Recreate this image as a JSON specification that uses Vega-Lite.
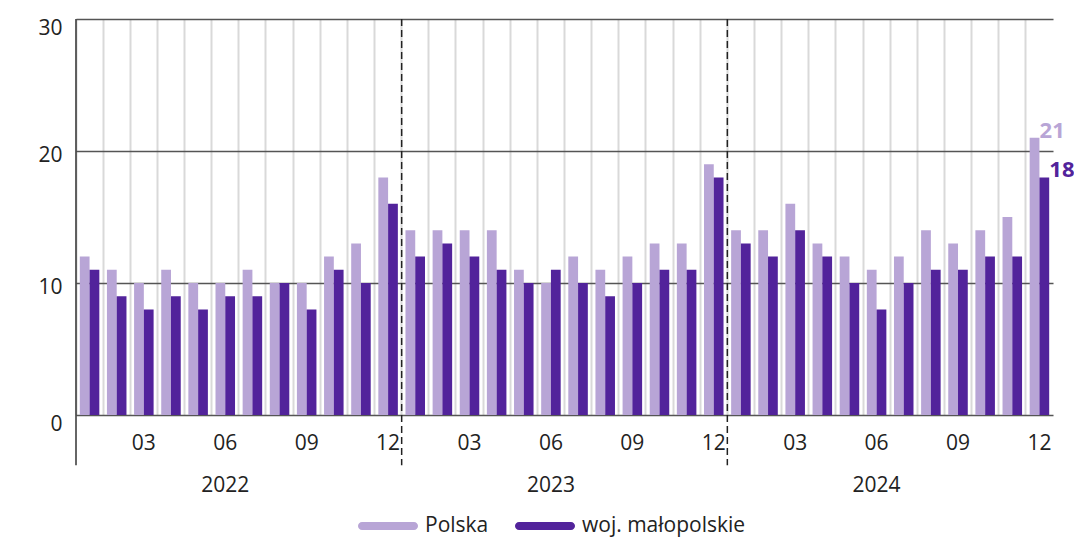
{
  "$schema": "https://vega.github.io/schema/vega-lite/v6.json",
  "width": 977,
  "height": 396,
  "autosize": {"type": "none"},
  "padding": {"left": 76, "top": 19, "right": 21, "bottom": 123},
  "background": "white",
  "config": {
    "view": {"stroke": null},
    "font": "Open Sans",
    "legend": {
      "orient": "none",
      "legendX": 282,
      "legendY": 477,
      "direction": "horizontal",
      "title": null,
      "labelFont": "Open Sans",
      "labelFontSize": 21,
      "labelColor": "#222222",
      "labelOffset": 7,
      "labelLimit": 400,
      "columnPadding": 26,
      "symbolType": "M-0.867,-0.133 L0.867,-0.133 A0.133,0.133 0 0 1 0.867,0.133 L-0.867,0.133 A0.133,0.133 0 0 1 -0.867,-0.133 Z",
      "symbolSize": 3600,
      "symbolStrokeWidth": 0,
      "symbolOpacity": 1
    }
  },
  "datasets": {
    "main": [
      {"m": "2022-01", "s": "Polska", "v": 12}, {"m": "2022-01", "s": "woj. małopolskie", "v": 11},
      {"m": "2022-02", "s": "Polska", "v": 11}, {"m": "2022-02", "s": "woj. małopolskie", "v": 9},
      {"m": "2022-03", "s": "Polska", "v": 10}, {"m": "2022-03", "s": "woj. małopolskie", "v": 8},
      {"m": "2022-04", "s": "Polska", "v": 11}, {"m": "2022-04", "s": "woj. małopolskie", "v": 9},
      {"m": "2022-05", "s": "Polska", "v": 10}, {"m": "2022-05", "s": "woj. małopolskie", "v": 8},
      {"m": "2022-06", "s": "Polska", "v": 10}, {"m": "2022-06", "s": "woj. małopolskie", "v": 9},
      {"m": "2022-07", "s": "Polska", "v": 11}, {"m": "2022-07", "s": "woj. małopolskie", "v": 9},
      {"m": "2022-08", "s": "Polska", "v": 10}, {"m": "2022-08", "s": "woj. małopolskie", "v": 10},
      {"m": "2022-09", "s": "Polska", "v": 10}, {"m": "2022-09", "s": "woj. małopolskie", "v": 8},
      {"m": "2022-10", "s": "Polska", "v": 12}, {"m": "2022-10", "s": "woj. małopolskie", "v": 11},
      {"m": "2022-11", "s": "Polska", "v": 13}, {"m": "2022-11", "s": "woj. małopolskie", "v": 10},
      {"m": "2022-12", "s": "Polska", "v": 18}, {"m": "2022-12", "s": "woj. małopolskie", "v": 16},
      {"m": "2023-01", "s": "Polska", "v": 14}, {"m": "2023-01", "s": "woj. małopolskie", "v": 12},
      {"m": "2023-02", "s": "Polska", "v": 14}, {"m": "2023-02", "s": "woj. małopolskie", "v": 13},
      {"m": "2023-03", "s": "Polska", "v": 14}, {"m": "2023-03", "s": "woj. małopolskie", "v": 12},
      {"m": "2023-04", "s": "Polska", "v": 14}, {"m": "2023-04", "s": "woj. małopolskie", "v": 11},
      {"m": "2023-05", "s": "Polska", "v": 11}, {"m": "2023-05", "s": "woj. małopolskie", "v": 10},
      {"m": "2023-06", "s": "Polska", "v": 10}, {"m": "2023-06", "s": "woj. małopolskie", "v": 11},
      {"m": "2023-07", "s": "Polska", "v": 12}, {"m": "2023-07", "s": "woj. małopolskie", "v": 10},
      {"m": "2023-08", "s": "Polska", "v": 11}, {"m": "2023-08", "s": "woj. małopolskie", "v": 9},
      {"m": "2023-09", "s": "Polska", "v": 12}, {"m": "2023-09", "s": "woj. małopolskie", "v": 10},
      {"m": "2023-10", "s": "Polska", "v": 13}, {"m": "2023-10", "s": "woj. małopolskie", "v": 11},
      {"m": "2023-11", "s": "Polska", "v": 13}, {"m": "2023-11", "s": "woj. małopolskie", "v": 11},
      {"m": "2023-12", "s": "Polska", "v": 19}, {"m": "2023-12", "s": "woj. małopolskie", "v": 18},
      {"m": "2024-01", "s": "Polska", "v": 14}, {"m": "2024-01", "s": "woj. małopolskie", "v": 13},
      {"m": "2024-02", "s": "Polska", "v": 14}, {"m": "2024-02", "s": "woj. małopolskie", "v": 12},
      {"m": "2024-03", "s": "Polska", "v": 16}, {"m": "2024-03", "s": "woj. małopolskie", "v": 14},
      {"m": "2024-04", "s": "Polska", "v": 13}, {"m": "2024-04", "s": "woj. małopolskie", "v": 12},
      {"m": "2024-05", "s": "Polska", "v": 12}, {"m": "2024-05", "s": "woj. małopolskie", "v": 10},
      {"m": "2024-06", "s": "Polska", "v": 11}, {"m": "2024-06", "s": "woj. małopolskie", "v": 8},
      {"m": "2024-07", "s": "Polska", "v": 12}, {"m": "2024-07", "s": "woj. małopolskie", "v": 10},
      {"m": "2024-08", "s": "Polska", "v": 14}, {"m": "2024-08", "s": "woj. małopolskie", "v": 11},
      {"m": "2024-09", "s": "Polska", "v": 13}, {"m": "2024-09", "s": "woj. małopolskie", "v": 11},
      {"m": "2024-10", "s": "Polska", "v": 14}, {"m": "2024-10", "s": "woj. małopolskie", "v": 12},
      {"m": "2024-11", "s": "Polska", "v": 15}, {"m": "2024-11", "s": "woj. małopolskie", "v": 12},
      {"m": "2024-12", "s": "Polska", "v": 21}, {"m": "2024-12", "s": "woj. małopolskie", "v": 18}
    ],
    "years": [{"m": "2023-01"}, {"m": "2024-01"}],
    "start": [{"m": "2022-01"}]
  },
  "layer": [
    {
      "data": {"name": "main"},
      "mark": {"type": "bar"},
      "encoding": {
        "x": {
          "field": "m",
          "type": "ordinal",
          "scale": {
            "domain": ["2022-01","2022-02","2022-03","2022-04","2022-05","2022-06","2022-07","2022-08","2022-09","2022-10","2022-11","2022-12",
                       "2023-01","2023-02","2023-03","2023-04","2023-05","2023-06","2023-07","2023-08","2023-09","2023-10","2023-11","2023-12",
                       "2024-01","2024-02","2024-03","2024-04","2024-05","2024-06","2024-07","2024-08","2024-09","2024-10","2024-11","2024-12"],
            "paddingInner": 0,
            "paddingOuter": 0
          },
          "axis": {
            "title": null,
            "domain": false,
            "ticks": false,
            "grid": true,
            "gridColor": "#d9d9d9",
            "gridWidth": 2,
            "bandPosition": 0,
            "labelAngle": 0,
            "labelFont": "Open Sans",
            "labelFontSize": 21,
            "labelColor": "#222222",
            "labelPadding": 17,
            "labelLineHeight": 42,
            "labelOverlap": false,
            "labelBound": false,
            "labelFlush": false,
            "labelExpr": "substring(datum.value,5,7)=='06' ? ['06', substring(datum.value,0,4)] : (indexof(['03','09','12'], substring(datum.value,5,7)) >= 0 ? substring(datum.value,5,7) : '')"
          }
        },
        "xOffset": {
          "field": "s",
          "type": "nominal",
          "scale": {"paddingInner": 0, "paddingOuter": 0.39}
        },
        "y": {
          "field": "v",
          "type": "quantitative",
          "scale": {"domain": [0, 30], "nice": false, "zero": true},
          "axis": {
            "title": null,
            "values": [0, 10, 20, 30],
            "domain": false,
            "ticks": false,
            "grid": true,
            "gridColor": "#555555",
            "gridWidth": 1.5,
            "labelFont": "Open Sans",
            "labelFontSize": 21,
            "labelColor": "#222222",
            "labelPadding": 14,
            "labelOffset": {"condition": {"test": "datum.value == 0 || datum.value == 30", "value": 9}, "value": 4.5}
          }
        },
        "color": {
          "field": "s",
          "type": "nominal",
          "scale": {"domain": ["Polska", "woj. małopolskie"], "range": ["#b8a5d6", "#52239b"]}
        }
      }
    },
    {
      "data": {"name": "main"},
      "transform": [{"filter": "datum.m == '2024-12'"}],
      "mark": {"type": "text", "align": "left", "baseline": "alphabetic", "dx": 5, "dy": 0, "fontSize": 22, "fontWeight": "bold", "font": "Open Sans"},
      "encoding": {
        "x": {"field": "m", "type": "ordinal"},
        "xOffset": {"field": "s", "type": "nominal"},
        "y": {"field": "v", "type": "quantitative"},
        "text": {"field": "v", "type": "quantitative"},
        "color": {"field": "s", "type": "nominal"}
      }
    },
    {
      "mark": {"type": "rule", "color": "#1a1a1a", "strokeWidth": 4},
      "encoding": {"y": {"datum": 0}}
    },
    {
      "data": {"name": "years"},
      "mark": {"type": "rule", "color": "#222222", "strokeWidth": 1.5, "strokeDash": [7, 4]},
      "encoding": {
        "x": {"field": "m", "type": "ordinal", "bandPosition": 0},
        "y": {"datum": 30},
        "y2": {"datum": -3.8}
      }
    },
    {
      "data": {"name": "start"},
      "mark": {"type": "rule", "color": "#333333", "strokeWidth": 1.5},
      "encoding": {
        "x": {"field": "m", "type": "ordinal", "bandPosition": 0},
        "y": {"datum": 30},
        "y2": {"datum": -3.8}
      }
    }
  ]
}
